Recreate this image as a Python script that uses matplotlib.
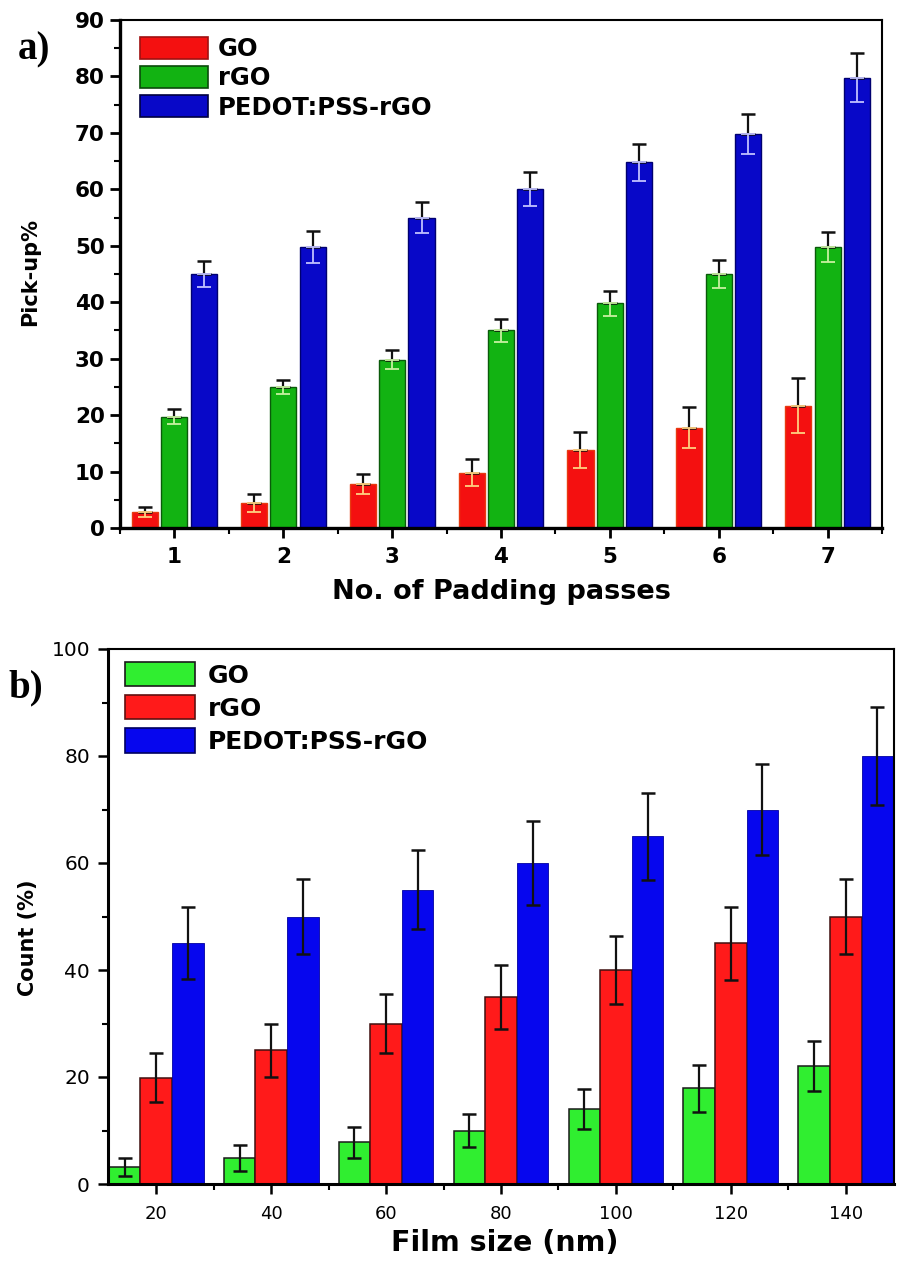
import numpy as np
import matplotlib
matplotlib.use("Agg")
import matplotlib.pyplot as plt
from matplotlib.patches import Patch
from matplotlib.ticker import MultipleLocator

plt.rcParams['font.family'] = ['DejaVu Sans']

# ---------- Panel a data ----------
passes = [1, 2, 3, 4, 5, 6, 7]
a_series = ["GO", "rGO", "PEDOT:PSS-rGO"]
a_go = [2.8, 4.5, 7.8, 9.8, 13.8, 17.8, 21.7]
a_go_err = [0.9, 1.6, 1.8, 2.4, 3.2, 3.7, 4.8]
a_rgo = [19.7, 25.0, 29.8, 35.0, 39.8, 45.0, 49.8]
a_rgo_err = [1.3, 1.2, 1.7, 2.0, 2.2, 2.5, 2.7]
a_ped = [45.0, 49.8, 55.0, 60.0, 64.8, 69.8, 79.8]
a_ped_err = [2.3, 2.8, 2.8, 3.0, 3.3, 3.6, 4.3]

# ---------- Panel b data ----------
film = [20, 40, 60, 80, 100, 120, 140]
b_series = ["GO", "rGO", "PEDOT:PSS-rGO"]
b_go = [3.2, 4.9, 7.8, 10.0, 14.0, 17.9, 22.1]
b_go_err = [1.7, 2.4, 2.9, 3.1, 3.8, 4.4, 4.7]
b_rgo = [19.9, 25.0, 30.0, 35.0, 40.0, 45.0, 50.0]
b_rgo_err = [4.6, 5.0, 5.6, 6.0, 6.4, 6.8, 7.0]
b_ped = [45.0, 50.0, 55.0, 60.0, 65.0, 70.0, 80.0]
b_ped_err = [6.7, 7.1, 7.4, 7.8, 8.1, 8.5, 9.1]

fig = plt.figure(figsize=(8.98, 12.68), dpi=100)

# ================= Panel a =================
axa = fig.add_axes([120/898, 1-528/1268, (882-120)/898, (528-20)/1268])
xa = np.array(passes, dtype=float)
wa = 0.24
offa = 0.27
a_fill = ["#f41010", "#12b312", "#0808c8"]
a_edge = ["#e83a10", "#0a5a0a", "#000070"]
a_vals = [a_go, a_rgo, a_ped]
a_errs = [a_go_err, a_rgo_err, a_ped_err]
a_low = ["#ffd080", "#c8f0a0", "#c0c0ff"]
for i, (v, e) in enumerate(zip(a_vals, a_errs)):
    pos = xa + (i - 1) * offa
    axa.bar(pos, v, width=wa, color=a_fill[i], edgecolor=a_edge[i], linewidth=1.0, zorder=2)
    z = np.zeros(len(e))
    axa.errorbar(pos, v, yerr=[z, e], fmt='none', ecolor='#111111', elinewidth=1.6,
                 capsize=5, capthick=1.8, zorder=3)
    axa.errorbar(pos, v, yerr=[e, z], fmt='none', ecolor=a_low[i], elinewidth=1.3,
                 capsize=5, capthick=1.3, zorder=3)

axa.set_xlim(0.5, 7.5)
axa.set_ylim(0, 90)
axa.set_xticks(passes)
axa.set_xticklabels([str(p) for p in passes])
axa.xaxis.set_minor_locator(MultipleLocator(0.5))
axa.yaxis.set_major_locator(MultipleLocator(10))
axa.yaxis.set_minor_locator(MultipleLocator(5))
axa.tick_params(axis='both', which='major', direction='out', length=7, width=2,
                labelsize=15.5)
axa.tick_params(axis='both', which='minor', direction='out', length=4, width=1.5)
axa.tick_params(axis='x', pad=7)
axa.tick_params(axis='y', pad=4)
for lab in axa.get_xticklabels() + axa.get_yticklabels():
    lab.set_fontweight('bold')
for s in ['left', 'bottom']:
    axa.spines[s].set_linewidth(2.4)
for s in ['top', 'right']:
    axa.spines[s].set_linewidth(1.5)
axa.set_ylabel("Pick-up%", fontsize=15, fontweight='bold')
axa.yaxis.label.set_verticalalignment('center')
axa.yaxis.set_label_coords(-0.118, 0.504)
axa.set_xlabel("No. of Padding passes", fontsize=19.5, fontweight='bold')
axa.xaxis.label.set_verticalalignment('center')
axa.xaxis.set_label_coords(0.501, -0.126)

handles_a = [Patch(facecolor=a_fill[i], edgecolor=['#a01010', '#0a4a0a', '#000040'][i],
                   linewidth=1.2) for i in range(3)]
axa.legend(handles_a, a_series, loc='upper left', bbox_to_anchor=(0.026, 0.9665),
           frameon=False, handlelength=2.8, handleheight=0.99, handletextpad=0.42,
           labelspacing=0.21, borderaxespad=0.0, borderpad=0.0,
           prop={'family': 'DejaVu Sans', 'weight': 'bold', 'size': 17.5})

fig.text(34/898, 1-50/1268, "a)", fontsize=28, fontweight='bold',
         family='Liberation Serif', ha='center', va='center')

# ================= Panel b =================
axb = fig.add_axes([108/898, 1-1184/1268, (894-108)/898, (1184-649)/1268])
xb = np.array(film, dtype=float)
wb = 5.5
offb = 5.5
b_fill = ["#30ee30", "#ff1a1a", "#0606ee"]
b_edge = ["#1a1a1a", "#401010", "#0000a0"]
b_vals = [b_go, b_rgo, b_ped]
b_errs = [b_go_err, b_rgo_err, b_ped_err]
for i, (v, e) in enumerate(zip(b_vals, b_errs)):
    pos = xb + (i - 1) * offb
    axb.bar(pos, v, width=wb, color=b_fill[i], edgecolor=b_edge[i],
            linewidth=1.1 if i < 2 else 0.6, zorder=2)
    axb.errorbar(pos, v, yerr=e, fmt='none', ecolor='#111111', elinewidth=1.6,
                 capsize=5, capthick=1.8, zorder=3)

axb.set_xlim(11.6, 148.4)
axb.set_ylim(0, 100)
axb.set_xticks(film)
axb.xaxis.set_minor_locator(MultipleLocator(10))
axb.yaxis.set_major_locator(MultipleLocator(20))
axb.yaxis.set_minor_locator(MultipleLocator(10))
axb.tick_params(axis='both', which='major', direction='out', length=7, width=1.8)
axb.tick_params(axis='both', which='minor', direction='out', length=4, width=1.5)
axb.tick_params(axis='x', labelsize=13, pad=8)
axb.tick_params(axis='y', labelsize=14.5, pad=6)
for s in ['left', 'bottom']:
    axb.spines[s].set_linewidth(2.2)
for s in ['top', 'right']:
    axb.spines[s].set_linewidth(1.5)
axb.set_ylabel("Count (%)", fontsize=15, fontweight='bold')
axb.yaxis.label.set_verticalalignment('center')
axb.yaxis.set_label_coords(-0.102, 0.46)
axb.set_xlabel("Film size (nm)", fontsize=20.5, fontweight='bold')
axb.xaxis.label.set_verticalalignment('center')
axb.xaxis.set_label_coords(0.505, -0.110)

handles_b = [Patch(facecolor=b_fill[i], edgecolor=['#1a1a1a', '#601010', '#000060'][i],
                   linewidth=1.2) for i in range(3)]
axb.legend(handles_b, b_series, loc='upper left', bbox_to_anchor=(0.0216, 0.9757),
           frameon=False, handlelength=2.8, handleheight=1.12, handletextpad=0.5,
           labelspacing=0.3, borderaxespad=0.0, borderpad=0.0,
           prop={'family': 'DejaVu Sans', 'weight': 'bold', 'size': 18})

fig.text(26/898, 1-688/1268, "b)", fontsize=28, fontweight='bold',
         family='Liberation Serif', ha='center', va='center')

fig.savefig("out.png", dpi=100)
